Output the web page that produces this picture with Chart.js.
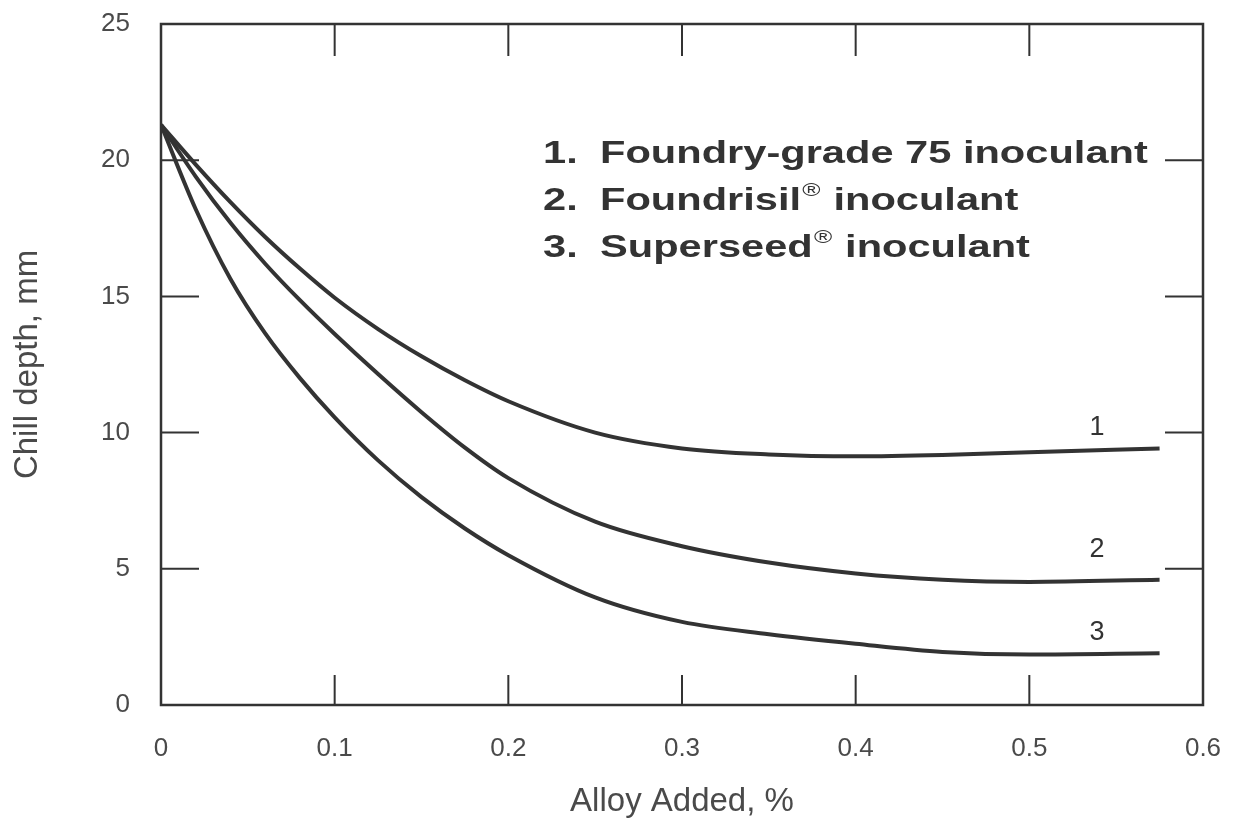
<!DOCTYPE html>
<html>
<head>
<meta charset="utf-8">
<script src="https://cdn.jsdelivr.net/npm/chart.js@4.4.0/dist/chart.umd.min.js"></script>
<style>
    body { margin: 0; background: #fff; }
</style>
</head>
<body>
<canvas id="chillChart" width="1240" height="831"></canvas>
<script>
// Alloy added (%) where the curves were read
const alloyAdded = [0, 0.02, 0.04, 0.06, 0.08, 0.1, 0.125, 0.15, 0.175, 0.2, 0.25, 0.3, 0.35, 0.4, 0.45, 0.5, 0.575];

// Chill depth (mm) for each inoculant
const foundryGrade75 = [21.3, 19.84, 18.46, 17.18, 16.02, 14.95, 13.8, 12.8, 11.92, 11.15, 10.0, 9.42, 9.2, 9.13, 9.18, 9.28, 9.42];
const foundrisil = [21.3, 19.4, 17.7, 16.2, 14.86, 13.62, 12.15, 10.75, 9.45, 8.33, 6.73, 5.83, 5.23, 4.83, 4.6, 4.52, 4.6];
const superseed = [21.3, 18.2, 15.64, 13.64, 12.0, 10.56, 8.98, 7.63, 6.48, 5.5, 3.95, 3.05, 2.6, 2.25, 1.95, 1.85, 1.9];

// Legend lines and curve labels
const legendNumbers = ['1.', '2.', '3.'];
const legendNames = [['Foundry-grade 75', ''], ['Foundrisil', '\u00AE'], ['Superseed', '\u00AE']];
const curveLabels = ['1', '2', '3'];
const curveLabelX = [0.539, 0.539, 0.539];
const curveLabelY = [10.2, 5.7, 2.65];

// Tick labels
const xTickLabels = ['0', '0.1', '0.2', '0.3', '0.4', '0.5', '0.6'];
const yTickLabels = ['0', '5', '10', '15', '20', '25'];

const ink = '#333';
const textGray = '#4a4a4a';
const fontFamily = '"Liberation Sans", Arial, Helvetica, sans-serif';

function toPoints(ys) {
    return alloyAdded.map((x, i) => ({ x: x, y: ys[i] }));
}

function curve(label, ys) {
    return {
        label: label,
        data: toPoints(ys),
        borderColor: ink,
        borderWidth: 4,
        pointRadius: 0,
        fill: false,
        cubicInterpolationMode: 'monotone'
    };
}

// Frame, inward ticks, legend text and curve numbers
const decorations = {
    id: 'decorations',
    afterDraw(chart) {
        const ctx = chart.ctx;
        const area = chart.chartArea;
        const xs = chart.scales.x;
        const ys = chart.scales.y;
        ctx.save();

        // box frame
        ctx.strokeStyle = ink;
        ctx.lineWidth = 2.5;
        ctx.strokeRect(area.left, area.top, area.right - area.left, area.bottom - area.top);

        // inward tick marks on all four sides
        ctx.lineWidth = 2;
        ctx.beginPath();
        xs.ticks.forEach(t => {
            if (t.value <= xs.min || t.value >= xs.max) return;
            const px = xs.getPixelForValue(t.value);
            ctx.moveTo(px, area.bottom);
            ctx.lineTo(px, area.bottom - 30);
            ctx.moveTo(px, area.top);
            ctx.lineTo(px, area.top + 32);
        });
        ys.ticks.forEach(t => {
            if (t.value <= ys.min || t.value >= ys.max) return;
            const py = ys.getPixelForValue(t.value);
            ctx.moveTo(area.left, py);
            ctx.lineTo(area.left + 38, py);
            ctx.moveTo(area.right, py);
            ctx.lineTo(area.right - 38, py);
        });
        ctx.stroke();

        // legend block (text in the original is wide, so stretch it)
        const stretch = 1.3;
        const baselines = [163, 210, 257];
        ctx.fillStyle = ink;
        ctx.textBaseline = 'alphabetic';
        ctx.textAlign = 'left';
        legendNames.forEach((parts, i) => {
            ctx.save();
            ctx.translate(0, baselines[i]);
            ctx.scale(stretch, 1);
            ctx.font = 'bold 32px ' + fontFamily;
            ctx.fillText(legendNumbers[i], 543 / stretch, 0);
            let x = 600 / stretch;
            ctx.fillText(parts[0], x, 0);
            x += ctx.measureText(parts[0]).width;
            if (parts[1]) {
                ctx.font = '19px ' + fontFamily;
                ctx.fillText(parts[1], x + 1, -14);
                x += ctx.measureText(parts[1]).width + 2;
                ctx.font = 'bold 32px ' + fontFamily;
            }
            ctx.fillText(' inoculant', x, 0);
            ctx.restore();
        });

        // numbers next to the curve ends
        ctx.font = '27px ' + fontFamily;
        ctx.textAlign = 'center';
        ctx.textBaseline = 'middle';
        curveLabels.forEach((lbl, i) => {
            ctx.fillText(lbl, xs.getPixelForValue(curveLabelX[i]), ys.getPixelForValue(curveLabelY[i]));
        });

        ctx.restore();
    }
};

const ctx = document.getElementById('chillChart').getContext('2d');
new Chart(ctx, {
    type: 'line',
    data: {
        datasets: [
            curve('Foundry-grade 75 inoculant', foundryGrade75),
            curve('Foundrisil inoculant', foundrisil),
            curve('Superseed inoculant', superseed)
        ]
    },
    options: {
        responsive: false,
        animation: false,
        layout: {
            padding: { top: 24, right: 37, left: 0, bottom: 0 }
        },
        plugins: {
            legend: { display: false },
            tooltip: { enabled: false }
        },
        scales: {
            x: {
                type: 'linear',
                min: 0,
                max: 0.6,
                afterFit: function(scale) { scale.height = 126; },
                // hidden tick marks only used to push the labels down
                grid: { display: false, drawTicks: true, tickLength: 28 },
                border: { display: false },
                ticks: {
                    stepSize: 0.1,
                    padding: 0,
                    color: textGray,
                    font: { family: fontFamily, size: 26 },
                    maxRotation: 0,
                    callback: function(value, index) { return xTickLabels[index]; }
                },
                title: {
                    display: true,
                    text: 'Alloy Added, %',
                    color: textGray,
                    font: { family: fontFamily, size: 33 },
                    padding: { top: 0, bottom: 9 }
                }
            },
            y: {
                type: 'linear',
                min: 0,
                max: 25,
                afterFit: function(scale) { scale.width = 161; },
                grid: { display: false, drawTicks: true, tickLength: 31 },
                border: { display: false },
                ticks: {
                    stepSize: 5,
                    padding: 0,
                    color: textGray,
                    font: { family: fontFamily, size: 26 },
                    callback: function(value, index) { return yTickLabels[index]; }
                },
                title: {
                    display: true,
                    text: 'Chill depth, mm',
                    color: textGray,
                    font: { family: fontFamily, size: 33 },
                    padding: { top: 8, bottom: 0 }
                }
            }
        }
    },
    plugins: [decorations]
});
</script>
</body>
</html>
